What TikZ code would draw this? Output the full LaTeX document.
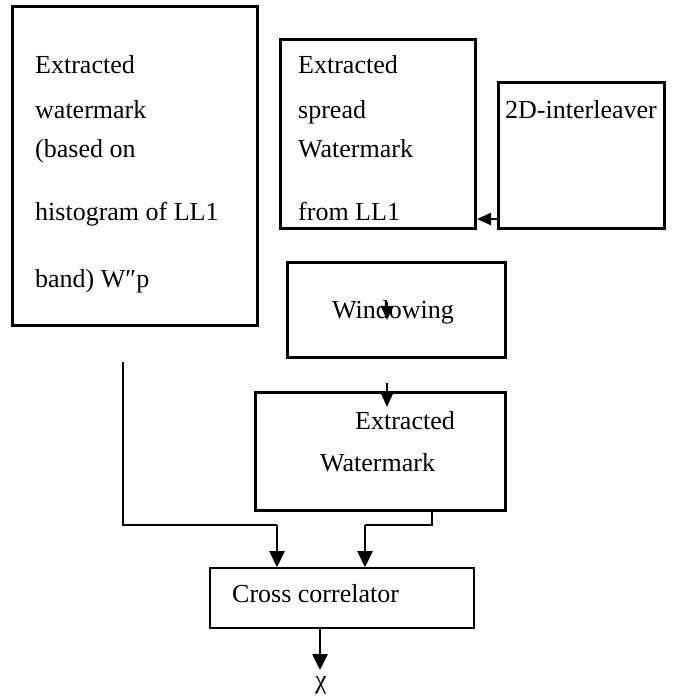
\documentclass[tikz,border=0pt]{standalone}
\usepackage{fontspec}
\setmainfont{Liberation Serif}
\usetikzlibrary{arrows.meta}
\begin{document}
\begin{tikzpicture}[x=1pt,y=-1pt,
  box/.style={draw, line width=3pt, inner sep=0pt, fill=none},
  thinbox/.style={draw, line width=1.6pt, inner sep=0pt},
  lbl/.style={anchor=base west, inner sep=0pt, font=\fontsize{26}{30}\selectfont},
  arr/.style={line width=2.6pt, -{Triangle[length=16pt,width=15pt]}},
  arrs/.style={line width=2.4pt, -{Triangle[length=14pt,width=12pt]}},
  wire/.style={line width=1.3pt}]
\useasboundingbox (0,0) rectangle (672,698);
% boxes
\node[box, minimum width=245pt, minimum height=318pt] (A) at (134.5,166) {};
\node[box, minimum width=195.5pt, minimum height=188.5pt] (B) at (377.75,134.25) {};
\node[box, minimum width=165.5pt, minimum height=146pt] (C) at (581.25,155.5) {};
\node[box, minimum width=217.5pt, minimum height=95pt] (W) at (396.25,309.5) {};
\node[box, minimum width=250pt, minimum height=118pt] (E) at (380,451) {};
\node[thinbox, minimum width=264pt, minimum height=60pt] (X) at (342,598) {};
% texts
\node[lbl] (a1) at (35,74) {Extracted};
\node[lbl] (a2) at (35,118) {watermark};
\node[lbl] (a3) at (35,157) {(based on};
\node[lbl] (a4) at (35,220) {histogram of LL1};
\node[lbl] (a5) at (35,287) {band) W″p};
\node[lbl] (b1) at (298,74) {Extracted};
\node[lbl] (b2) at (298,118) {spread};
\node[lbl] (b3) at (298,157) {Watermark};
\node[lbl] (b4) at (298,220) {from LL1};
\node[lbl] (c1) at (505,118) {2D-interleaver};
\node[lbl] (w1) at (332,318) {Windowing};
\node[lbl] (e1) at (355,429) {Extracted};
\node[lbl] (e2) at (320,471) {Watermark};
\node[lbl] (x1) at (232,602) {Cross correlator};
\node[lbl] (chi) at (315,688) {χ};
% coordinates
\coordinate (cb) at (498.5,219);
\coordinate (wa) at (387,302);
\coordinate (wb) at (387,320);
\coordinate (ea) at (387,383);
\coordinate (eb) at (387,407);
\coordinate (la) at (123,362);
\coordinate (lb) at (277,525);
\coordinate (ra) at (432,510);
\coordinate (rb) at (365,525);
\coordinate (xo) at (320,670);
% connectors
\draw[arrs] (cb) -- (cb -| B.east);
\draw[arrs] (wa) -- (wb);
\draw[arrs] (ea) -- (eb);
\draw[wire] (la) |- (lb);
\draw[arr] (lb) -- (lb |- X.north);
\draw[wire] (ra) |- (rb);
\draw[arr] (rb) -- (rb |- X.north);
\draw[arr] (X.south -| xo) -- (xo);
\end{tikzpicture}
\end{document}
